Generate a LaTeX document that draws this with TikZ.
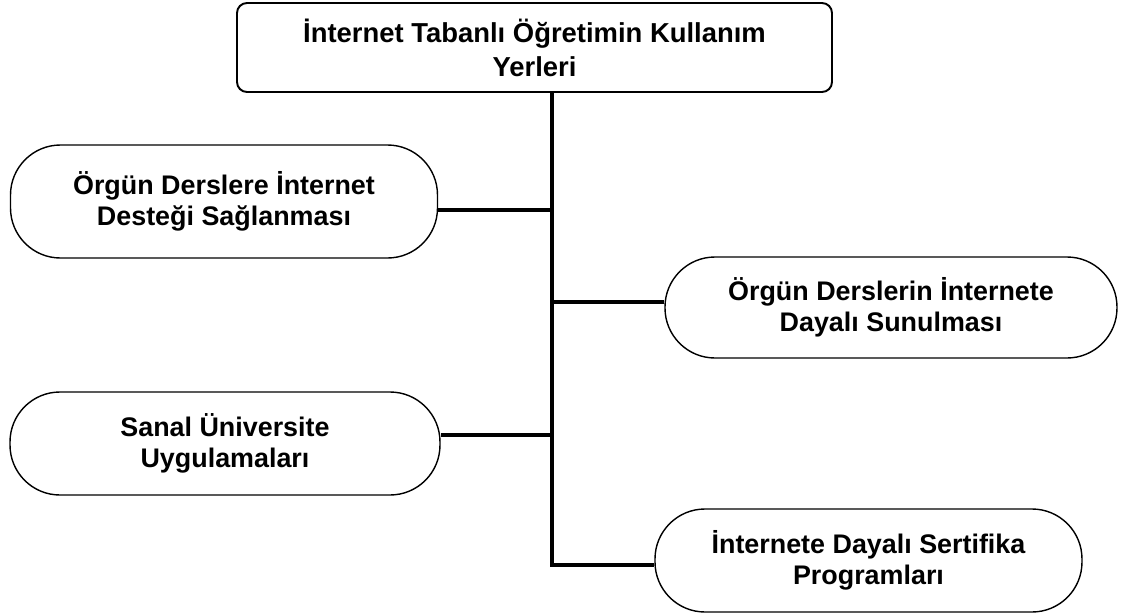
\documentclass[tikz,border=0pt]{standalone}
\usepackage{fontspec}
\setmainfont{Liberation Sans}
\usetikzlibrary{positioning}

\tikzset{
  title_box/.style={rectangle, draw, line width=1.1pt, rounded corners=0.2cm,
    align=center, font=\fontsize{15.6}{19.3}\selectfont\bfseries},
  use_box/.style={rectangle, draw, line width=0.8pt, rounded corners=1cm,
    align=center, font=\fontsize{15.3}{17.6}\selectfont\bfseries},
  trunk_line/.style={line width=2.8pt},
}

\def\xl{4.48}
\def\xr{17.6}
\def\xt{11.04}

\begin{document}
\begin{tikzpicture}
    \useasboundingbox (0,0) rectangle (22.82,-12.32);

    \node[title_box, minimum width=11.9cm, minimum height=1.78cm] (kullanim_yerleri) at (10.69, -0.95)
      {\.Internet Tabanlı Öğretimin Kullanım\\ Yerleri};

    \node[use_box, minimum width=8.54cm, minimum height=2.26cm] (destek) at (\xl, -4.03)
      {Örgün Derslere \.Internet\\ Desteği Sağlanması};

    \node[use_box, minimum width=9.04cm, minimum height=2.02cm] (sunum) at (17.82, -6.15)
      {Örgün Derslerin \.Internete\\ Dayalı Sunulması};

    \node[use_box, minimum width=8.6cm, minimum height=2.06cm] (sanal_universite) at (4.5, -8.87)
      {Sanal Üniversite\\ Uygulamaları};

    \node[use_box, minimum width=8.54cm, minimum height=2.06cm] (sertifika) at (17.37, -11.21)
      {\.Internete Dayalı Sertifika\\ Programları};

    % junctions on the trunk
    \coordinate (j_destek)    at (\xt, -4.2);
    \coordinate (j_sunum)     at (\xt, -6.04);
    \coordinate (j_sanal)     at (\xt, -8.7);
    \coordinate (j_sertifika) at (\xt, -11.3);

    \draw[trunk_line] (kullanim_yerleri.south -| j_destek) -- (j_sertifika) -- (sertifika.west |- j_sertifika);
    \draw[trunk_line] (destek.east |- j_destek)           -- (j_destek);
    \draw[trunk_line] (j_sunum)                           -- (sunum.west |- j_sunum);
    \draw[trunk_line] (sanal_universite.east |- j_sanal)  -- (j_sanal);
  \end{tikzpicture}
\end{document}
